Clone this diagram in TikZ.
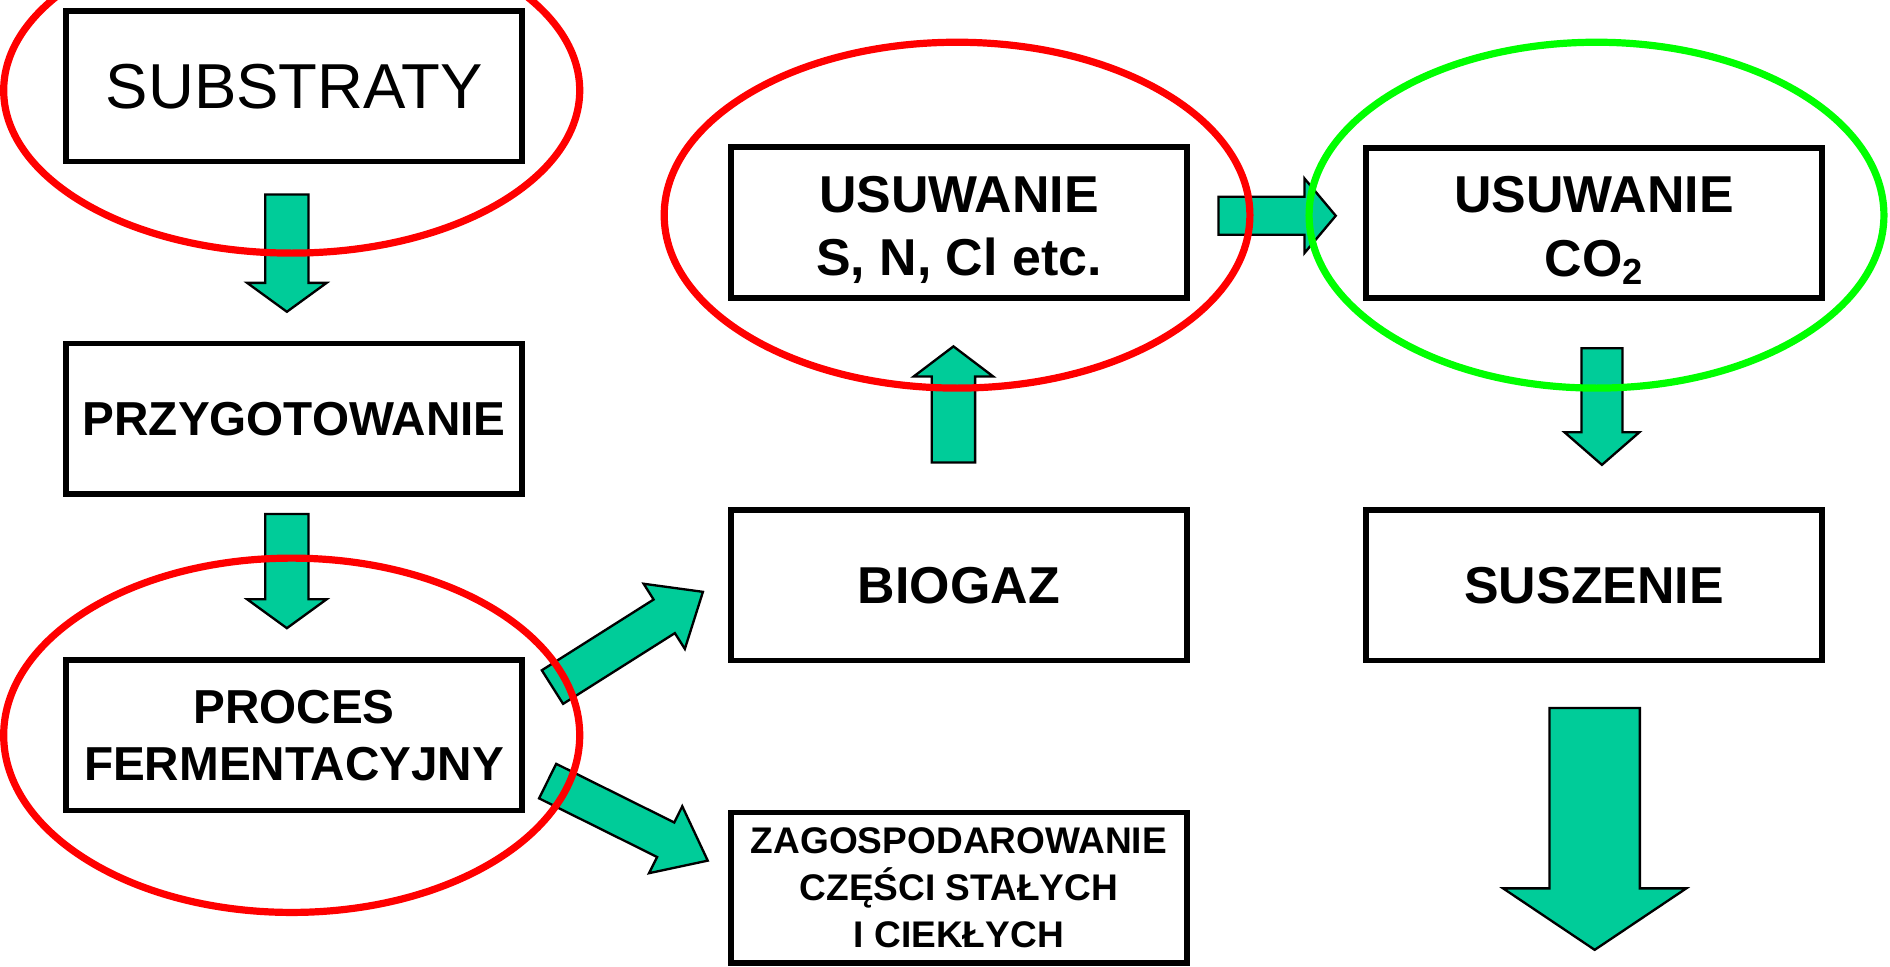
\documentclass[tikz,border=0pt]{standalone}
\usepackage{fontspec}
\setmainfont{Liberation Sans}
\usetikzlibrary{calc}
\definecolor{flowgreen}{RGB}{0,204,153}
\definecolor{markred}{RGB}{255,0,0}
\definecolor{markgreen}{RGB}{0,255,0}
% block arrow: tail, tip, half shaft, half head, head length
\newcommand{\fatarrow}[5]{%
  \path ($(#2)!#5!(#1)$) coordinate (#2b);
  \draw[flow] ($(#1)!#3!90:(#2)$) -- ($(#2b)!#3!90:(#2)$) -- ($(#2b)!#4!90:(#2)$) -- (#2)
    -- ($(#2b)!#4!-90:(#2)$) -- ($(#2b)!#3!-90:(#2)$) -- ($(#1)!#3!-90:(#2)$) -- cycle;
}

\begin{document}
\begin{tikzpicture}[x=0.02cm, y=-0.02cm,
  box/.style={draw, line width=2.7pt, minimum width=7.56cm, minimum height=2.5cm, align=center, inner sep=0pt, font=\bfseries\fontsize{22.5}{27}\selectfont},
  bigtext/.style={font=\bfseries\fontsize{24.5}{30}\selectfont},
  flow/.style={draw=black, fill=flowgreen, line width=1.1pt, line join=miter},
  ring/.style={line width=3.4pt}]
\useasboundingbox (0,0) rectangle (1568,802);
\fill[white] (0,0) rectangle (1568,802);
% left column
\node[box, font=\fontsize{30}{36}\selectfont] (substraty) at (244,71.5) {SUBSTRATY};
\node[box] (przygot) at (244,347.5) {PRZYGOTOWANIE};
\node[box] (ferment) at (244,610) {PROCES\\FERMENTACYJNY};
% middle column
\node[box, bigtext] (usuwS) at (795.5,184.5) {\rule{0pt}{24pt}USUWANIE\\S, N, Cl etc.};
\node[box, bigtext] (biogaz) at (795.5,485.5) {BIOGAZ};
\node[box, font=\bfseries\fontsize{17.5}{22}\selectfont] (zagosp) at (795.5,736.5) {ZAGOSPODAROWANIE\\CZĘŚCI STAŁYCH\\I CIEKŁYCH};
% right column
\node[box, bigtext] (usuwCO) at (1322.5,185) {\rule{0pt}{24pt}USUWANIE\\CO\textsubscript{2}};
\node[box, bigtext] (suszenie) at (1322.5,485.5) {SUSZENIE};

% arrow ends
\coordinate (a1t) at ($(substraty.south)+(-6,25)$);
\coordinate (a1h) at ($(przygot.north)+(-6,-24)$);
\coordinate (a2t) at ($(przygot.south)+(-6,14)$);
\coordinate (a2h) at ($(ferment.north)+(-6,-24)$);
\coordinate (a3t) at ($(ferment.east)+(23,-40)$);
\coordinate (a3h) at ($(biogaz.west)+(-21,5.5)$);
\coordinate (a4t) at ($(ferment.east)+(19,38)$);
\coordinate (a4h) at ($(zagosp.west)+(-17,-22.5)$);
\coordinate (a5t) at ($(biogaz.north)+(-4.5,-37)$);
\coordinate (a5h) at ($(usuwS.south)+(-4.5,38)$);
\coordinate (a6t) at ($(usuwS.east)+(24,-5.5)$);
\coordinate (a6h) at ($(usuwCO.west)+(-23,-6)$);
\coordinate (a7t) at ($(usuwCO.south)+(6.5,39)$);
\coordinate (a7h) at ($(suszenie.north)+(6.5,-35)$);
\coordinate (a8t) at ($(suszenie.south)+(0.5,37)$);
\coordinate (a8h) at (1323,788);

\fatarrow{a1t}{a1h}{3.6mm}{6.6mm}{4.8mm}
\fatarrow{a2t}{a2h}{3.6mm}{6.6mm}{4.8mm}
\fatarrow{a3t}{a3h}{3.3mm}{6.4mm}{7.6mm}
\fatarrow{a4t}{a4h}{3.2mm}{6.2mm}{7.8mm}
\fatarrow{a5t}{a5h}{3.6mm}{6.6mm}{5mm}
\fatarrow{a6t}{a6h}{3.15mm}{6.2mm}{5.2mm}
\fatarrow{a7t}{a7h}{3.4mm}{6.2mm}{5.4mm}
\fatarrow{a8t}{a8h}{7.5mm}{15.2mm}{10.2mm}

% marks
\draw[ring, markred] (242,75) ellipse [x radius=4.78cm, y radius=2.7cm];
\draw[ring, markred] (242,610) ellipse [x radius=4.78cm, y radius=2.94cm];
\draw[ring, markred] (794,178.5) ellipse [x radius=4.86cm, y radius=2.87cm];
\draw[ring, markgreen] (1324.5,178.5) ellipse [x radius=4.77cm, y radius=2.87cm];
\end{tikzpicture}
\end{document}
